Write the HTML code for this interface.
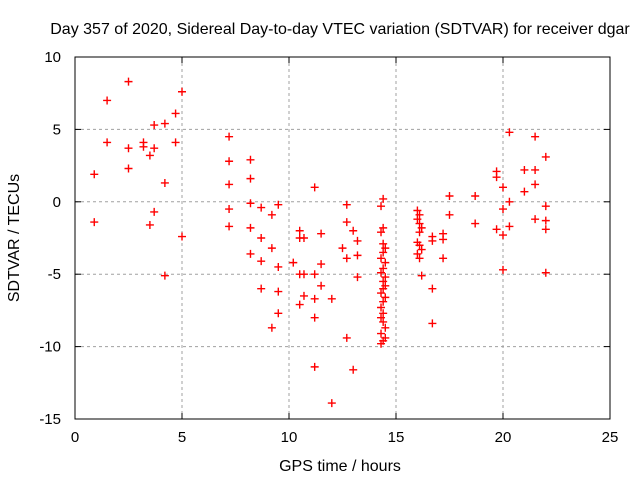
<!DOCTYPE html>
<html><head><meta charset="utf-8"><style>body{margin:0;background:#fff}svg{display:block;font-family:"Liberation Sans",sans-serif}</style></head>
<body>
<svg id="c" width="640" height="480">
<text x="340" y="34" text-anchor="middle" font-size="16">Day 357 of 2020, Sidereal Day-to-day VTEC variation (SDTVAR) for receiver dgar</text>
<text x="340" y="471" text-anchor="middle" font-size="16">GPS time / hours</text>
<text transform="translate(19,238) rotate(-90)" text-anchor="middle" font-size="16">SDTVAR / TECUs</text>
<g id="grid"></g><g id="axes"></g><g id="marks"></g>
</svg>
<script>
const xTicks=[0,5,10,15,20,25];
const yTicks=[10,5,0,-5,-10,-15];
const hours=[0.9,0.9,1.5,1.5,2.5,2.5,2.5,3.2,3.2,3.5,3.5,3.7,3.7,3.7,4.2,4.2,4.2,4.7,4.7,5.0,5.0,7.2,7.2,7.2,7.2,7.2,8.2,8.2,8.2,8.2,8.2,8.7,8.7,8.7,8.7,9.2,9.2,9.2,9.5,9.5,9.5,9.5,10.2,10.5,10.5,10.5,10.5,10.7,10.7,10.7,11.2,11.2,11.2,11.2,11.2,11.5,11.5,11.5,12.0,12.0,12.5,12.7,12.7,12.7,12.7,13.0,13.0,13.2,13.2,13.2,
14.4,14.3,14.4,14.3,14.4,14.5,14.4,14.3,14.5,14.4,14.3,14.5,14.4,14.5,14.4,14.3,14.5,14.4,14.3,14.4,14.3,14.4,14.5,14.3,14.5,14.4,14.3,
16.0,16.1,16.0,16.1,16.2,16.1,16.0,16.1,16.2,16.0,16.1,16.2,16.7,16.7,17.2,17.2,17.2,16.7,16.7,17.5,17.5,18.7,18.7,19.7,19.7,19.7,20.0,20.0,20.0,20.0,20.3,20.3,20.3,21.0,21.0,21.5,21.5,21.5,21.5,22.0,22.0,22.0,22.0,22.0];
const values=[1.9,-1.4,7.0,4.1,8.3,3.7,2.3,4.1,3.8,3.2,-1.6,5.3,3.7,-0.7,5.4,1.3,-5.1,6.1,4.1,7.6,-2.4,4.5,2.8,1.2,-0.5,-1.7,2.9,1.6,-0.1,-1.8,-3.6,-0.4,-2.5,-4.1,-6.0,-0.9,-3.2,-8.7,-0.2,-4.5,-6.2,-7.7,-4.2,-2.0,-2.5,-5.0,-7.1,-2.5,-5.0,-6.5,1.0,-5.0,-6.7,-8.0,-11.4,-2.2,-4.3,-5.8,-6.7,-13.9,-3.2,-0.2,-1.4,-3.9,-9.4,-2.0,-11.6,-2.7,-5.2,-3.7,
0.2,-0.3,-1.8,-2.1,-2.9,-3.2,-3.5,-3.9,-4.2,-4.6,-4.9,-5.2,-5.5,-5.8,-6.0,-6.3,-6.6,-6.9,-7.3,-7.7,-8.0,-8.3,-8.7,-9.1,-9.4,-9.6,-9.8,
-0.6,-0.9,-1.2,-1.5,-1.8,-2.1,-2.8,-3.0,-3.3,-3.6,-3.9,-5.1,-2.4,-2.7,-2.2,-2.6,-3.9,-6.0,-8.4,0.4,-0.9,0.4,-1.5,2.1,1.7,-1.9,1.0,-0.5,-2.3,-4.7,4.8,0.0,-1.7,2.2,0.7,4.5,2.2,1.2,-1.2,3.1,-0.3,-1.3,-1.9,-4.9];
const L=75,R=610,T=57,B=419;
const X=v=>L+(v-0)/25*(R-L), Y=v=>T+(10-v)/25*(B-T);
const NS='http://www.w3.org/2000/svg';
function mk(p,t,a){const e=document.createElementNS(NS,t);for(const k in a)e.setAttribute(k,a[k]);p.appendChild(e);return e;}
const g=document.getElementById('grid'),ax=document.getElementById('axes'),m=document.getElementById('marks');
xTicks.forEach(t=>{const x=X(t);
 if(t>0&&t<25){const l=mk(g,'line',{x1:x,x2:x,y1:T,y2:B,stroke:'#a0a0a0','stroke-dasharray':'3,3'});}
 mk(ax,'line',{x1:x,x2:x,y1:B,y2:B-6,stroke:'#000'});mk(ax,'line',{x1:x,x2:x,y1:T,y2:T+6,stroke:'#000'});
 const tx=mk(ax,'text',{x:x,y:B+23,'text-anchor':'middle','font-size':15});tx.textContent=t;
 });
yTicks.forEach(t=>{const y=Y(t);
 if(t<10&&t>-15){const l=mk(g,'line',{x1:L,x2:R,y1:y,y2:y,stroke:'#a0a0a0','stroke-dasharray':'3,3'});}
 mk(ax,'line',{x1:L,x2:L+6,y1:y,y2:y,stroke:'#000'});mk(ax,'line',{x1:R,x2:R-6,y1:y,y2:y,stroke:'#000'});
 const tx=mk(ax,'text',{x:L-14,y:y+5,'text-anchor':'end','font-size':15});tx.textContent=t;
 });
const fr=mk(ax,'rect',{x:L,y:T,width:R-L,height:B-T,fill:'none',stroke:'#000'});

hours.forEach((h,i)=>{const x=X(h),y=Y(values[i]);
 const p=mk(m,'path',{d:`M${x-4},${y}H${x+4}M${x},${y-4}V${y+4}`,stroke:'#ff0000','stroke-width':1.4});
 });
</script>
</body></html>
